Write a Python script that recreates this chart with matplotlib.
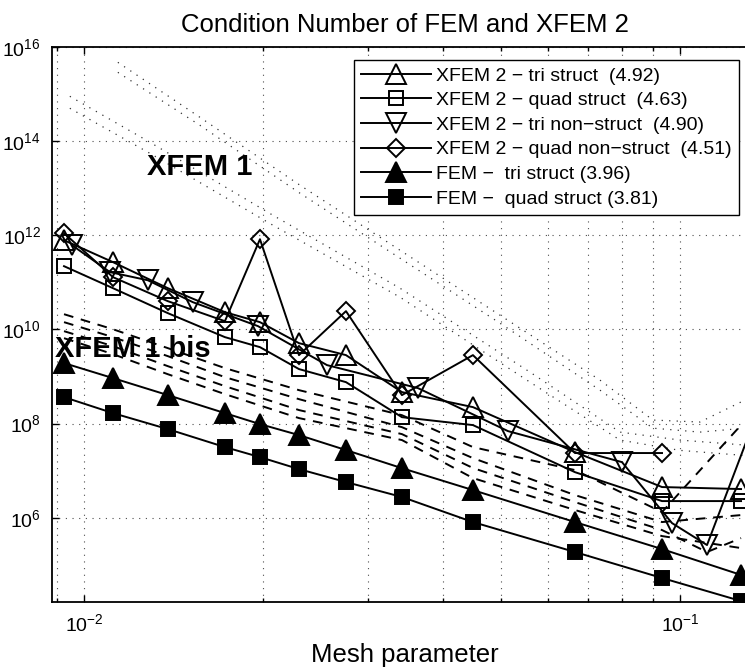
import matplotlib

matplotlib.use("Agg")
import matplotlib.pyplot as plt  # noqa: E402
from matplotlib.lines import Line2D  # noqa: E402
from matplotlib.ticker import FixedFormatter, FixedLocator, LogLocator, NullLocator  # noqa: E402

plt.rcParams["font.family"] = ["Liberation Sans", "DejaVu Sans"]
plt.rcParams["mathtext.default"] = "regular"

# parametro de malla de las mallas estructuradas
h_struct = [0.00926, 0.01119, 0.01383, 0.01724, 0.01974, 0.02295,
            0.02752, 0.03416, 0.04494, 0.06665, 0.09329, 0.1266]
# mallas no estructuradas (triangulos)
h_tri_ns = [0.00955, 0.01106, 0.01280, 0.01523, 0.01958, 0.02557,
            0.03635, 0.05145, 0.07992, 0.09696, 0.1110, 0.1443]

fem_tri = [1.93e9, 9.25e8, 4.03e8, 1.67e8, 9.76e7, 5.70e7,
           2.74e7, 1.13e7, 3.87e6, 8.1e5, 2.16e5, 6.1e4]
fem_quad = [3.65e8, 1.67e8, 7.64e7, 3.17e7, 1.94e7, 1.08e7,
            5.73e6, 2.76e6, 8.1e5, 1.87e5, 5.25e4, 1.70e4]
xfem2_tri = [7.87e11, 2.69e11, 7.53e10, 2.33e10, 1.43e10, 5.12e9,
             2.85e9, 4.67e8, 2.24e8, 2.48e7, 4.49e6, 4.07e6]
xfem2_quad = [2.21e11, 7.53e10, 2.22e10, 6.87e9, 4.21e9, 1.44e9,
              7.6e8, 1.37e8, 9.3e7, 9.3e6, 2.26e6, 2.26e6]
xfem2_tri_ns = [6.17e11, 1.65e11, 1.11e11, 3.80e10, 1.18e10, 1.75e9,
                5.67e8, 6.93e7, 1.52e7, 7.7e5, 2.63e5, 1.66e9]
xfem2_quad_ns = [1.11e12, 1.29e11, 3.99e10, 1.50e10, 8.26e11, 2.85e9,
                 2.45e10, 4.03e8, 2.85e9, 2.37e7, 2.37e7]

# XFEM 1 bis (discontinuas)
h_bis_a = [0.00926, 0.01119, 0.01383, 0.01724, 0.02295, 0.03416,
           0.04494, 0.06665, 0.09329, 0.1266]
h_bis_b = [0.00926, 0.01119, 0.01383, 0.01724, 0.02295, 0.03416,
           0.04494, 0.06665, 0.09329, 0.1110, 0.1266]
bis1 = [2.11e10, 1.01e10, 4.01e9, 1.51e9, 5.14e8, 1.51e8, 3.17e7, 1.03e7, 1.32e6, 9.3e7]
bis2 = [1.43e10, 6.87e9, 2.71e9, 9.7e8, 3.31e8, 8.4e7, 1.85e7, 3.03e6, 8.1e5, 1.14e6]
bis3 = [9.2e9, 4.42e9, 1.66e9, 6.25e8, 1.94e8, 5.98e7, 1.14e7, 2.15e6, 5.48e5, 1.87e5, 3.7e5]
bis4 = [6.53e9, 2.99e9, 1.12e9, 4.23e8, 1.31e8, 4.47e7, 6.97e6, 1.46e6, 4.08e5, 2.27e5]

# XFEM 1 (punteadas)
h_x1_a = [0.01140, 0.01565, 0.02304, 0.03390, 0.04989, 0.07341, 0.09007, 0.1080, 0.1285]
h_x1_b = [0.00947, 0.01290, 0.02075, 0.03390, 0.05602, 0.07931, 0.1, 0.1285]
xfem1_a1 = [4.73e15, 3.22e14, 1.16e13, 4.83e11, 2.01e10, 8.4e8, 1.19e8, 1.08e8, 3.16e8]
xfem1_a2 = [2.90e15, 2.18e14, 7.84e12, 3.27e11, 1.36e10, 5.14e8, 8.0e7, 6.6e7, 8.0e7]
xfem1_b1 = [8.98e14, 9.5e13, 2.67e12, 7.53e10, 1.24e9, 6.6e7, 4.47e7, 3.5e7]
xfem1_b2 = [5.0e14, 5.53e13, 1.64e12, 4.85e10, 7.6e8, 4.47e7, 2.7e7, 2.1e7]

labels = [
    "XFEM 2 \u2212 tri struct  (4.92)",
    "XFEM 2 \u2212 quad struct  (4.63)",
    "XFEM 2 \u2212 tri non\u2212struct  (4.90)",
    "XFEM 2 \u2212 quad non\u2212struct  (4.51)",
    "FEM \u2212  tri struct (3.96)",
    "FEM \u2212  quad struct (3.81)",
]

y_ticks = [1e6, 1e8, 1e10, 1e12, 1e14, 1e16]
y_ticklabels = ["$10^{6}$", "$10^{8}$", "$10^{10}$", "$10^{12}$", "$10^{14}$", "$10^{16}$"]
x_ticks = [1e-2, 1e-1]
x_ticklabels = ["$10^{-2}$", "$10^{-1}$"]


def run():
    fig = plt.figure(figsize=(7.45, 6.69), dpi=100)
    # el eje sigue un poco mas alla del borde derecho (figura recortada)
    ax = fig.add_axes([0.0698, 0.1001, 0.9503, 0.8296])
    ax.set_xscale("log")
    ax.set_yscale("log")

    dot = (0, (1, 5))
    for x, y in ((h_x1_a, xfem1_a1), (h_x1_a, xfem1_a2),
                 (h_x1_b, xfem1_b1), (h_x1_b, xfem1_b2)):
        ax.plot(x, y, color="0.2", ls=dot, lw=0.9)

    dash = (0, (5, 4))
    for x, y in ((h_bis_a, bis1), (h_bis_a, bis2), (h_bis_b, bis3), (h_bis_a, bis4)):
        ax.plot(x, y, color="k", ls=dash, lw=1.4)

    kw = dict(color="k", lw=1.4, mew=1.4)
    ax.plot(h_struct, xfem2_tri, marker="^", ms=14, mfc="none", **kw)
    ax.plot(h_struct, xfem2_quad, marker="s", ms=10, mfc="none", **kw)
    ax.plot(h_tri_ns, xfem2_tri_ns, marker="v", ms=14, mfc="none", **kw)
    ax.plot(h_struct[:11], xfem2_quad_ns, marker="D", ms=9.5, mfc="none", **kw)
    ax.plot(h_struct, fem_tri, marker="^", ms=14, mfc="k", **kw)
    ax.plot(h_struct, fem_quad, marker="s", ms=10, mfc="k", **kw)

    handles = [
        Line2D([], [], marker="^", ms=14, mfc="none", **kw),
        Line2D([], [], marker="s", ms=10, mfc="none", **kw),
        Line2D([], [], marker="v", ms=14, mfc="none", **kw),
        Line2D([], [], marker="D", ms=9.5, mfc="none", **kw),
        Line2D([], [], marker="^", ms=14, mfc="k", **kw),
        Line2D([], [], marker="s", ms=10, mfc="k", **kw),
    ]
    leg = ax.legend(handles, labels, loc="upper right", fontsize=14,
                    bbox_to_anchor=(739 / 745, 1 - 60 / 669),
                    bbox_transform=fig.transFigure, borderaxespad=0,
                    fancybox=False, framealpha=1, edgecolor="k",
                    handlelength=3.6, handletextpad=0.3, labelspacing=0.36,
                    borderpad=0.36)
    leg.get_frame().set_linewidth(1.0)

    ax.text(0.01275, 1.89e13, "XFEM 1", fontsize=21, fontweight="bold",
            ha="left", va="baseline")
    ax.text(0.00894, 2.58e9, "XFEM 1 bis", fontsize=21, fontweight="bold",
            ha="left", va="baseline")

    ax.set_xlim(0.00884, 0.1362)
    ax.set_ylim(1.62e4, 1e16)
    ax.xaxis.set_major_locator(FixedLocator(x_ticks))
    ax.xaxis.set_major_formatter(FixedFormatter(x_ticklabels))
    ax.xaxis.set_minor_locator(LogLocator(base=10, subs=range(2, 10), numticks=20))
    ax.yaxis.set_major_locator(FixedLocator(y_ticks))
    ax.yaxis.set_major_formatter(FixedFormatter(y_ticklabels))
    ax.yaxis.set_minor_locator(NullLocator())
    ax.tick_params(which="both", direction="in", top=True, right=True,
                   labelsize=14, width=1.0)
    ax.tick_params(which="major", length=5, pad=8)
    ax.tick_params(which="minor", length=3)
    ax.grid(True, which="major", color="0.3", ls=(0, (1, 5)), lw=0.8)
    ax.grid(True, which="minor", axis="x", color="0.3", ls=(0, (1, 5)), lw=0.8)
    for s in ax.spines.values():
        s.set_linewidth(1.3)

    ax.set_title("Condition Number of FEM and XFEM 2", fontsize=18.5, pad=11,
                 x=(405 - 52) / 708)
    # etiqueta centrada en la parte visible del eje
    fig.text(405 / 745, 1 - 655 / 669, "Mesh parameter", fontsize=18.5,
             ha="center", va="center")
    fig.savefig("out.png", dpi=100)


if __name__ == "__main__":
    run()
